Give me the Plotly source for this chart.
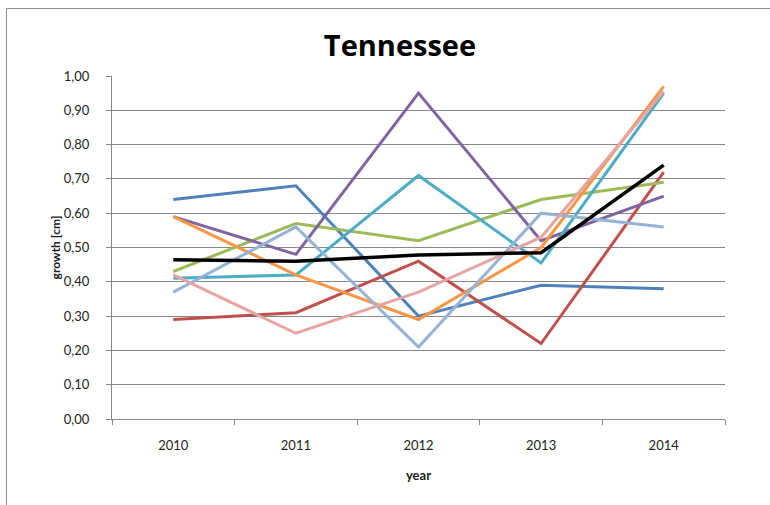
import plotly.graph_objects as go

years = ["2010", "2011", "2012", "2013", "2014"]

blue = [0.64, 0.68, 0.30, 0.39, 0.38]
red = [0.29, 0.31, 0.46, 0.22, 0.72]
green = [0.43, 0.57, 0.52, 0.64, 0.69]
purple = [0.59, 0.48, 0.95, 0.52, 0.65]
teal = [0.41, 0.42, 0.71, 0.455, 0.95]
orange = [0.59, 0.42, 0.29, 0.50, 0.97]
light_blue = [0.37, 0.56, 0.21, 0.60, 0.56]
pink = [0.42, 0.25, 0.37, 0.53, 0.955]
mean = [0.464, 0.46, 0.478, 0.485, 0.74]

series = [
    ("s1", blue, "#4F81BD", 3),
    ("s2", red, "#C0504D", 3),
    ("s3", green, "#9BBB59", 3),
    ("s4", purple, "#8064A2", 3),
    ("s5", teal, "#4BACC6", 3),
    ("s6", orange, "#F79646", 3),
    ("s7", light_blue, "#95B3D7", 3),
    ("s8", pink, "#E6A5A3", 3),
    ("mean", mean, "#000000", 3.5),
]

fig = go.Figure()
for name, vals, col, w in series:
    fig.add_trace(go.Scatter(x=years, y=vals, mode="lines", name=name,
                             line=dict(color=col, width=w)))

font_family = "Lato, 'Open Sans', sans-serif"
L, R, T, B = 112, 45, 76, 86
W, H = 770, 505
pw, ph = W - L - R, H - T - B

def px_x(p):
    return (p - L) / pw

def px_y(p):
    return (H - B - p) / ph

fig.update_layout(
    width=W, height=H,
    margin=dict(l=L, r=R, t=T, b=B),
    paper_bgcolor="white", plot_bgcolor="white",
    showlegend=False,
    separators=", ",
    font=dict(family=font_family, size=13, color="#222222"),
    title=dict(text="<b>Tennessee</b>", x=400 / W, xref="container", xanchor="center",
               y=1 - 46 / H, yref="container", yanchor="middle",
               font=dict(family="'Open Sans', sans-serif", size=29, color="#000000")),
    xaxis=dict(
        type="category", range=[-0.5, 4.5],
        showline=True, linecolor="#868686", linewidth=1,
        ticks="outside", ticklen=5, tickcolor="#868686", tickson="boundaries",
        ticklabelstandoff=14,
        showgrid=False, zeroline=False,
        tickfont=dict(size=13, color="#222222"),
        title=dict(text="<b>year</b>", font=dict(size=13, color="#222222"), standoff=19),
    ),
    yaxis=dict(
        range=[0, 1.0], dtick=0.1, tickformat=".2f",
        showline=True, linecolor="#868686", linewidth=1,
        ticks="outside", ticklen=5, tickcolor="#868686",
        ticklabelstandoff=14,
        showgrid=True, gridcolor="#868686", gridwidth=1,
        zeroline=False,
        tickfont=dict(size=13, color="#222222"),
        title=dict(text="<b>growth [cm]</b>", font=dict(size=12, color="#222222"), standoff=0),
    ),
    shapes=[
        dict(type="line", xref="paper", yref="paper",
             x0=px_x(6.5), x1=px_x(775), y0=px_y(8.5), y1=px_y(8.5),
             line=dict(color="#8C8C8C", width=1)),
        dict(type="line", xref="paper", yref="paper",
             x0=px_x(6.5), x1=px_x(6.5), y0=px_y(8.5), y1=px_y(510),
             line=dict(color="#8C8C8C", width=1)),
    ],
)

fig.write_html("out.html")
